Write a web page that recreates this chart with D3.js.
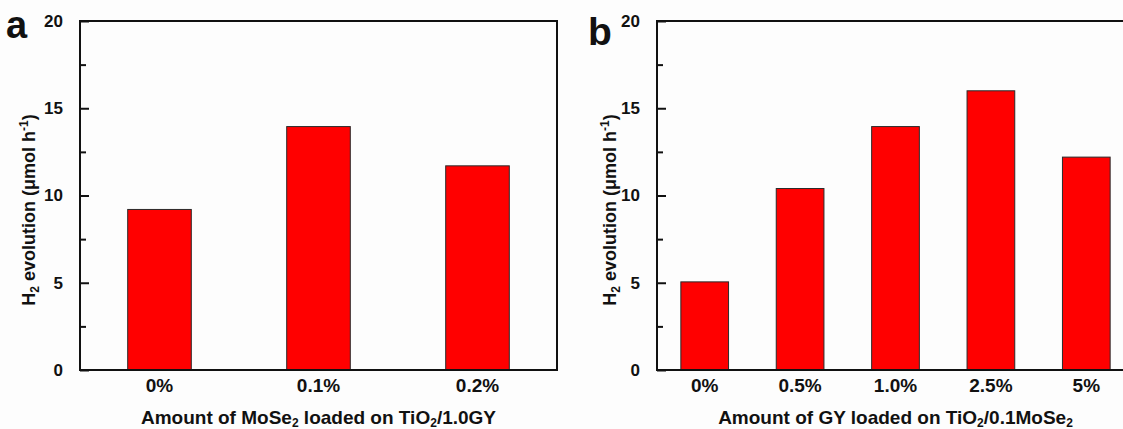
<!DOCTYPE html>
<html>
<head>
<meta charset="utf-8">
<script src="https://cdn.jsdelivr.net/npm/d3@7"></script>
<style>
  html, body { margin: 0; padding: 0; background: #fdfdfd; }
  svg { display: block; font-family: "Liberation Sans", Arial, sans-serif; }
</style>
</head>
<body>
<div id="chart"></div>
<script>
// data
var catsA = ["0%", "0.1%", "0.2%"];
var valuesA = [9.2, 13.95, 11.7];
var catsB = ["0%", "0.5%", "1.0%", "2.5%", "5%"];
var valuesB = [5.05, 10.4, 13.95, 16.0, 12.2];
var yTicks = [0, 5, 10, 15, 20];
var yMinor = [2.5, 7.5, 12.5, 17.5];

var width = 1123, height = 429;

var svg = d3.select("#chart").append("svg")
    .attr("width", width)
    .attr("height", height);

function drawPanel(opts) {
    var x = d3.scaleBand()
        .domain(opts.cats)
        .range([opts.left, opts.right])
        .paddingInner(opts.pad)
        .paddingOuter(opts.pad / 2);

    var y = d3.scaleLinear()
        .domain([0, 20])
        .range([opts.bottom, opts.top]);

    var g = svg.append("g");

    // bars
    g.selectAll("rect.bar")
        .data(opts.values)
        .enter().append("rect")
        .attr("class", "bar")
        .attr("x", function(d, i) { return x(opts.cats[i]); })
        .attr("y", function(d) { return y(d); })
        .attr("width", x.bandwidth())
        .attr("height", function(d) { return y(0) - y(d); })
        .attr("fill", "#ff0000")
        .attr("stroke", "#2a2a2a")
        .attr("stroke-width", 1);

    // y axis, ticks inside
    var yAxis = g.append("g")
        .attr("transform", "translate(" + opts.left + ",0)")
        .call(d3.axisLeft(y).tickValues(yTicks).tickSize(-9).tickPadding(17));
    yAxis.select(".domain").remove();
    yAxis.selectAll("line").attr("stroke", "#111").attr("stroke-width", 2);
    yAxis.selectAll("text")
        .attr("font-size", 17)
        .attr("font-weight", "bold")
        .attr("fill", "#111")
        .attr("font-family", "Liberation Sans, Arial, sans-serif");
    var minor = g.append("g")
        .attr("transform", "translate(" + opts.left + ",0)")
        .call(d3.axisLeft(y).tickValues(yMinor).tickSize(-6).tickFormat(""));
    minor.select(".domain").remove();
    minor.selectAll("line").attr("stroke", "#111").attr("stroke-width", 2);

    // x axis labels
    var xAxis = g.append("g")
        .attr("transform", "translate(0," + opts.bottom + ")")
        .call(d3.axisBottom(x).tickSize(0).tickPadding(9));
    xAxis.select(".domain").remove();
    xAxis.selectAll("text")
        .attr("font-size", 19)
        .attr("font-weight", "bold")
        .attr("fill", "#111")
        .attr("font-family", "Liberation Sans, Arial, sans-serif");

    // frame
    g.append("rect")
        .attr("x", opts.left)
        .attr("y", opts.top)
        .attr("width", opts.right - opts.left)
        .attr("height", opts.bottom - opts.top)
        .attr("fill", "none")
        .attr("stroke", "#111")
        .attr("stroke-width", 2);

    // y title
    var yt = g.append("text")
        .attr("transform", "rotate(-90)")
        .attr("x", -opts.yTitleY)
        .attr("y", opts.yTitleX)
        .attr("text-anchor", "middle")
        .attr("font-size", 18)
        .attr("font-weight", "bold")
        .attr("fill", "#111");
    yt.append("tspan").text("H");
    yt.append("tspan").attr("font-size", 12).attr("dy", 4).text("2");
    yt.append("tspan").attr("dy", -4).text(" evolution (\u03bcmol h");
    yt.append("tspan").attr("font-size", 12).attr("dy", -7).text("-1");
    yt.append("tspan").attr("dy", 7).text(")");

    // x title
    var xt = g.append("text")
        .attr("x", (opts.left + opts.right) / 2)
        .attr("y", 424)
        .attr("text-anchor", "middle")
        .attr("font-size", 19)
        .attr("font-weight", "bold")
        .attr("fill", "#111");
    opts.xTitle.forEach(function(p) {
        var t = xt.append("tspan").text(p.t);
        if (p.sub) t.attr("font-size", 12).attr("dy", 3);
        else if (p.after) t.attr("dy", -3);
    });

    // panel letter
    svg.append("text")
        .attr("x", opts.letterX)
        .attr("y", opts.letterY)
        .attr("font-size", opts.letterSize)
        .attr("font-weight", "bold")
        .attr("fill", "#111")
        .text(opts.letter);
}

drawPanel({
    cats: catsA, values: valuesA, pad: 0.6,
    left: 80, right: 557, top: 21, bottom: 370,
    yTitleX: 35, yTitleY: 210,
    letter: "a", letterX: 6, letterY: 38, letterSize: 38,
    xTitle: [
        {t: "Amount of MoSe"}, {t: "2", sub: true},
        {t: " loaded on TiO", after: true}, {t: "2", sub: true},
        {t: "/1.0GY", after: true}
    ]
});

drawPanel({
    cats: catsB, values: valuesB, pad: 0.5,
    left: 657, right: 1134, top: 21, bottom: 370,
    yTitleX: 616, yTitleY: 210,
    letter: "b", letterX: 588, letterY: 45, letterSize: 39,
    xTitle: [
        {t: "Amount of GY loaded on TiO"}, {t: "2", sub: true},
        {t: "/0.1MoSe", after: true}, {t: "2", sub: true}
    ]
});
</script>
</body>
</html>
